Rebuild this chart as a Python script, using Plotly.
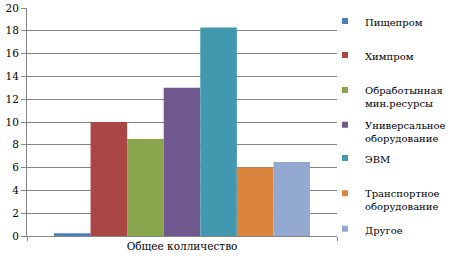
import plotly.graph_objects as go

category = ["Общее колличество"]
series_names = [
    "Пищепром",
    "Химпром",
    "Обработынная<br>мин.ресурсы",
    "Универсальное<br>оборудование",
    "ЭВМ",
    "Транспортное<br>оборудование",
    "Другое",
]
series_values = [0.25, 10, 8.5, 13, 18.3, 6, 6.5]
series_colors = ["#4A7EBB", "#AA4643", "#89A54E", "#71588F", "#4198AF", "#DB843D", "#93A9CF"]
y_ticks = [0, 2, 4, 6, 8, 10, 12, 14, 16, 18, 20]

# pixel centres of the first text line of each legend entry
legend_px = [21, 55, 90, 124.7, 158, 193.3, 228.7]

W, H = 449, 260
ml, mr, mt, mb = 27, 112, 8, 24
plot_h = H - mt - mb
plot_w = W - ml - mr

FONT = "DejaVu Serif"
AX_SIZE = 10.5
LEG_SIZE = 10

fig = go.Figure()
for i, (n, v, c) in enumerate(zip(series_names, series_values, series_colors)):
    fig.add_trace(go.Bar(x=category, y=[v], name=n, marker=dict(color=c, line=dict(width=0)),
                         showlegend=False))

layout_legends = {}
for i, (n, c) in enumerate(zip(series_names, series_colors)):
    key = "legend" if i == 0 else f"legend{i+1}"
    fig.add_trace(go.Scatter(x=[None], y=[None], mode="markers", name=n,
                             marker=dict(symbol="square", size=6, color=c, line=dict(width=0)),
                             legend=key, showlegend=True, hoverinfo="skip"))
    top_px = legend_px[i] - 13
    layout_legends[key] = dict(
        x=(325 - ml) / plot_w, xanchor="left",
        y=(H - mb - top_px) / plot_h, yanchor="top",
        bgcolor="rgba(0,0,0,0)", borderwidth=0,
        font=dict(family=FONT, size=LEG_SIZE, color="#000000"),
        valign="top", itemwidth=30,
    )

fig.update_layout(
    width=W, height=H,
    margin=dict(l=ml, r=mr, t=mt, b=mb, pad=0, autoexpand=False),
    paper_bgcolor="white", plot_bgcolor="white",
    barmode="group", bargap=0.174, bargroupgap=0,
    font=dict(family=FONT, size=AX_SIZE, color="#000000"),
    xaxis=dict(type="category", showgrid=False, showline=True, linecolor="#868686", linewidth=1,
               ticks="outside", tickson="boundaries", ticklen=4, tickcolor="#868686",
               tickfont=dict(family=FONT, size=AX_SIZE, color="#000000"), fixedrange=True),
    yaxis=dict(range=[0, 20], tickvals=y_ticks, showgrid=True, gridcolor="#868686", gridwidth=1,
               showline=True, linecolor="#868686", linewidth=1, zeroline=False,
               ticks="outside", ticklen=5, tickcolor="#868686",
               tickfont=dict(family=FONT, size=AX_SIZE, color="#000000"), fixedrange=True),
    **layout_legends,
)

fig.write_html("out.html")
